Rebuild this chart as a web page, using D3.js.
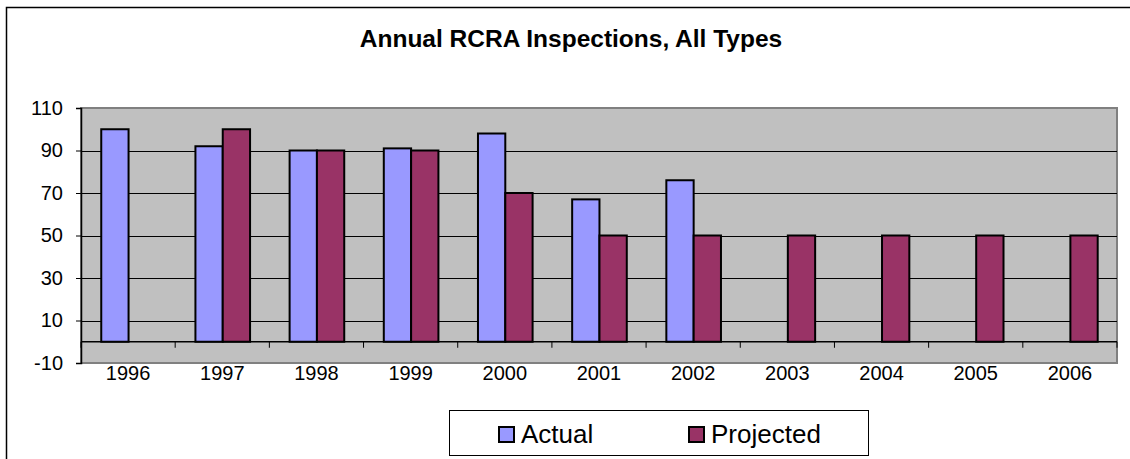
<!DOCTYPE html>
<html>
<head>
<meta charset="utf-8">
<script src="https://cdn.jsdelivr.net/npm/d3@7"></script>
<style>
  body { margin: 0; background: #fff; }
  text { font-family: "Liberation Sans", Arial, sans-serif; }
</style>
</head>
<body>
<div id="chart"></div>
<script>
var years = ["1996", "1997", "1998", "1999", "2000", "2001", "2002", "2003", "2004", "2005", "2006"];
var actual = [100, 92, 90, 91, 98, 67, 76, null, null, null, null];
var projected = [null, 100, 90, 90, 70, 50, 50, 50, 50, 50, 50];
var yTicks = [-10, 10, 30, 50, 70, 90, 110];

var width = 1130, height = 459;
var plotL = 81, plotR = 1117, plotT = 108, plotB = 363;

var svg = d3.select("#chart")
    .append("svg")
    .attr("width", width)
    .attr("height", height);

// outer chart frame (only left and top edges fall inside the picture)
svg.append("rect")
    .attr("x", 6.5).attr("y", 7.5)
    .attr("width", 1140).attr("height", 470)
    .attr("fill", "none")
    .attr("stroke", "#000")
    .attr("stroke-width", 1.5);

svg.append("text")
    .attr("x", 571).attr("y", 47)
    .attr("text-anchor", "middle")
    .attr("font-size", 24.5)
    .attr("font-weight", "bold")
    .text("Annual RCRA Inspections, All Types");

var x = d3.scaleBand()
    .domain(years)
    .range([plotL, plotR]);

var y = d3.scaleLinear()
    .domain([-10, 110])
    .range([plotB, plotT]);

// plot area
svg.append("rect")
    .attr("x", plotL).attr("y", plotT)
    .attr("width", plotR - plotL).attr("height", plotB - plotT)
    .attr("fill", "#c0c0c0")
    .attr("stroke", "#808080")
    .attr("stroke-width", 2);

// gridlines
svg.append("g")
    .selectAll("line")
    .data(yTicks.filter(function(d) { return d > -10 && d < 110; }))
    .enter()
    .append("line")
        .attr("x1", plotL).attr("x2", plotR)
        .attr("y1", function(d) { return Math.round(y(d)) + 0.5; })
        .attr("y2", function(d) { return Math.round(y(d)) + 0.5; })
        .attr("stroke", "#000")
        .attr("stroke-width", 1);

// bars
var bw = x.bandwidth();
var off = bw * 0.215, barW = bw * 0.29;

var series = [
    { name: "Actual", values: actual, color: "#9999ff", slot: 0 },
    { name: "Projected", values: projected, color: "#993366", slot: 1 }
];

series.forEach(function(s) {
    svg.append("g")
        .selectAll("rect")
        .data(years.map(function(yr, i) { return { year: yr, v: s.values[i] }; })
            .filter(function(d) { return d.v != null; }))
        .enter()
        .append("rect")
            .attr("x", function(d) { return x(d.year) + off + s.slot * barW; })
            .attr("y", function(d) { return y(d.v); })
            .attr("width", barW)
            .attr("height", function(d) { return y(0) - y(d.v); })
            .attr("fill", s.color)
            .attr("stroke", "#000")
            .attr("stroke-width", 2);
});

// category axis along zero line
var xAxis = svg.append("g")
    .attr("transform", "translate(0," + y(0) + ")");
xAxis.append("line")
    .attr("x1", plotL).attr("x2", plotR)
    .attr("stroke", "#000").attr("stroke-width", 1.5);
xAxis.selectAll(".tick")
    .data(years.concat(["end"]))
    .enter()
    .append("line")
        .attr("x1", function(d, i) { return i < years.length ? x(d) : plotR; })
        .attr("x2", function(d, i) { return i < years.length ? x(d) : plotR; })
        .attr("y1", 0).attr("y2", 6)
        .attr("stroke", "#000");

svg.append("g")
    .selectAll("text")
    .data(years)
    .enter()
    .append("text")
        .attr("x", function(d) { return x(d) + bw / 2; })
        .attr("y", 380)
        .attr("text-anchor", "middle")
        .attr("font-size", 20)
        .text(function(d) { return d; });

// value axis
var yAxis = svg.append("g")
    .attr("transform", "translate(" + plotL + ",0)")
    .call(d3.axisLeft(y).tickValues(yTicks).tickSize(5).tickPadding(13)
        .tickFormat(function(d) { return String(d); }));
yAxis.select(".domain").attr("stroke", "#000").attr("stroke-width", 1.5);
yAxis.selectAll(".tick line").attr("stroke", "#000");
yAxis.selectAll(".tick text")
    .attr("font-size", 20)
    .attr("font-family", "Liberation Sans, Arial, sans-serif")
    .attr("fill", "#000");

// legend
var legend = svg.append("g");
legend.append("rect")
    .attr("x", 449.5).attr("y", 410.5)
    .attr("width", 419).attr("height", 45)
    .attr("fill", "#fff")
    .attr("stroke", "#000")
    .attr("stroke-width", 1);

var legendX = [499, 689];
series.forEach(function(s, i) {
    legend.append("rect")
        .attr("x", legendX[i]).attr("y", 427)
        .attr("width", 15).attr("height", 15)
        .attr("fill", s.color)
        .attr("stroke", "#000")
        .attr("stroke-width", 2);
    legend.append("text")
        .attr("x", legendX[i] + 22).attr("y", 443)
        .attr("font-size", 26)
        .text(s.name);
});
</script>
</body>
</html>
